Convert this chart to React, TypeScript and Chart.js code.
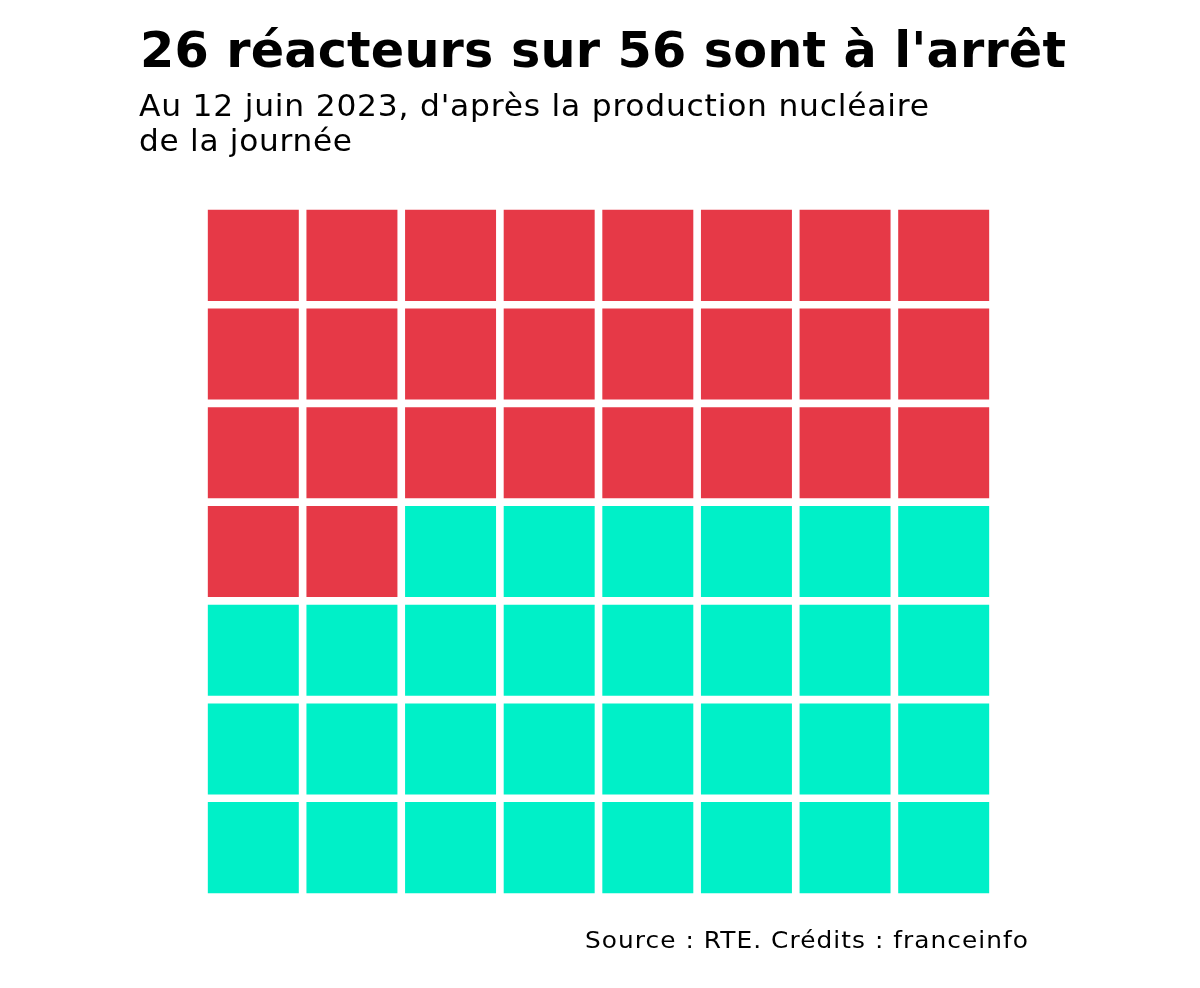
import React, { useEffect, useLayoutEffect, useRef } from "react";
import { Chart, registerables } from "chart.js";

Chart.register(...registerables);

const titleText = "26 réacteurs sur 56 sont à l'arrêt";
const subtitleLines = ["Au 12 juin 2023, d'après la production nucléaire", "de la journée"];
const sourceText = "Source : RTE. Crédits : franceinfo";

const totalReactors = 56;
const stoppedReactors = 26;
const columnLabels = ["1", "2", "3", "4", "5", "6", "7", "8"];
const stoppedColor = "#E63947";
const runningColor = "#00F0C8";

const FONT = "'DejaVu Sans', 'Noto Sans', sans-serif";

function FitText(props: { text: string; width: number; style: React.CSSProperties }) {
  const ref = useRef<HTMLSpanElement>(null);
  useLayoutEffect(() => {
    const el = ref.current!;
    el.style.letterSpacing = "0px";
    el.style.transform = "none";
    const w = el.getBoundingClientRect().width;
    const n = Array.from(props.text).length;
    const diff = props.width - w;
    if (diff > 0) {
      const ls = (diff * 0.5) / Math.max(1, n - 1);
      el.style.letterSpacing = ls + "px";
      const w2 = el.getBoundingClientRect().width - ls;
      el.style.transform = "scaleX(" + props.width / w2 + ")";
    } else {
      const ls = diff / Math.max(1, n - 1);
      el.style.letterSpacing = ls + "px";
    }
  }, [props.text, props.width]);
  return (
    <span
      ref={ref}
      style={{ ...props.style, display: "inline-block", whiteSpace: "nowrap", transformOrigin: "0 0" }}
    >
      {props.text}
    </span>
  );
}

export default function App() {
  const ref = useRef<HTMLCanvasElement>(null);

  useEffect(() => {
    const cols = columnLabels.length;
    const rows = Math.ceil(totalReactors / cols);
    const datasets = [];
    for (let r = 0; r < rows; r++) {
      const rowFromTop = rows - 1 - r;
      const data = columnLabels.map(() => 1);
      const colors = columnLabels.map((_, c) =>
        rowFromTop * cols + c < stoppedReactors ? stoppedColor : runningColor
      );
      datasets.push({
        label: "row" + rowFromTop,
        data,
        backgroundColor: colors,
        borderColor: "#ffffff",
        borderWidth: 4.15,
        borderSkipped: false,
        barPercentage: 1,
        categoryPercentage: 1,
      });
    }
    const chart = new Chart(ref.current!, {
      type: "bar",
      data: { labels: columnLabels, datasets },
      options: {
        animation: false,
        responsive: false,
        layout: { padding: { left: 204, right: 207, top: 206, bottom: 91 } },
        plugins: { legend: { display: false }, tooltip: { enabled: false } },
        scales: {
          x: { stacked: true, display: false },
          y: { stacked: true, display: false, min: 0, max: rows },
        },
      },
    });
    return () => chart.destroy();
  }, []);

  return (
    <div style={{ position: "absolute", left: 0, top: 0, width: 1200, height: 988, background: "#fff" }}>
      <canvas ref={ref} width={1200} height={988} style={{ position: "absolute", left: 0, top: 0 }} />
      <div style={{ position: "absolute", left: 140, top: 26, lineHeight: "50px" }}>
        <FitText
          text={titleText}
          width={926}
          style={{ fontFamily: FONT, fontWeight: 700, fontSize: 49, lineHeight: "50px", color: "#000" }}
        />
      </div>
      <div style={{ position: "absolute", left: 139, top: 87.5 }}>
        <div style={{ height: 35 }}>
          <FitText
            text={subtitleLines[0]}
            width={790}
            style={{ fontFamily: FONT, fontWeight: 400, fontSize: 30, lineHeight: "35px", color: "#000" }}
          />
        </div>
        <div style={{ height: 35 }}>
          <FitText
            text={subtitleLines[1]}
            width={213}
            style={{ fontFamily: FONT, fontWeight: 400, fontSize: 30, lineHeight: "35px", color: "#000" }}
          />
        </div>
      </div>
      <div style={{ position: "absolute", left: 585, top: 929 }}>
        <FitText
          text={sourceText}
          width={443}
          style={{ fontFamily: FONT, fontWeight: 400, fontSize: 23, lineHeight: "23px", color: "#000" }}
        />
      </div>
    </div>
  );
}
